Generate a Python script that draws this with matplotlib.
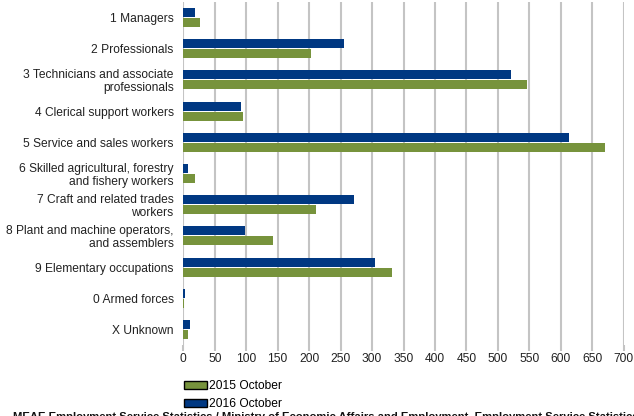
import numpy as np
import matplotlib
matplotlib.use('Agg')
import matplotlib.pyplot as plt
from matplotlib.patches import Patch

# Occupation groups (top to bottom as drawn)
categories = ['1 Managers', '2 Professionals', '3 Technicians and associate\nprofessionals',
              '4 Clerical support workers', '5 Service and sales workers',
              '6 Skilled agricultural, forestry\nand fishery workers',
              '7 Craft and related trades\nworkers',
              '8 Plant and machine operators,\nand assemblers',
              '9 Elementary occupations', '0 Armed forces', 'X Unknown']
oct_2015 = [27, 203, 546, 95, 670, 19, 211, 143, 332, 1, 7]
oct_2016 = [19, 256, 521, 92, 613, 7, 272, 98, 305, 3, 11]
xticks = list(range(0, 701, 50))

green = '#77933c'
blue = '#003882'
grid_col = '#c4c4c4'
fs = 8.65

plt.rcParams['font.family'] = ['Liberation Sans', 'DejaVu Sans']

fig = plt.figure(figsize=(6.34, 4.16), dpi=100)
ax = fig.add_axes([183.3 / 634, 1 - 345 / 416, 440.4 / 634, 343 / 416])

y = np.arange(len(categories))
h = 0.29
ax.barh(y - 0.16, oct_2016, height=h, color=blue, zorder=3)
ax.barh(y + 0.16, oct_2015, height=h, color=green, zorder=3)

ax.set_ylim(len(categories) - 0.5, -0.5)
ax.set_xlim(0, 700)
ax.set_xticks(xticks)
ax.set_xticklabels([str(t) for t in xticks], fontsize=fs, color='#222222')
ax.set_yticks(y)
ax.set_yticklabels(categories, fontsize=fs, color='#222222', linespacing=1.1)

ax.xaxis.grid(True, color=grid_col, linewidth=1.5, zorder=0)
ax.set_axisbelow(True)
for s in ax.spines.values():
    s.set_visible(False)
ax.tick_params(axis='y', length=0, pad=7)
ax.tick_params(axis='x', length=4, width=1.5, color=grid_col, pad=2)

# Legend below axis
handles = [Patch(facecolor=green, edgecolor='black', linewidth=1.0, label='2015 October'),
           Patch(facecolor=blue, edgecolor='black', linewidth=1.0, label='2016 October')]
fig.legend(handles=handles, loc='upper left', bbox_to_anchor=(176 / 634, 1 - 372 / 416),
           frameon=False, fontsize=fs, handlelength=1.9, handleheight=0.65,
           handletextpad=0.15, labelspacing=0.45, borderpad=0.2)

# Source line (clipped at bottom edge, as in the original)
fig.text(13 / 634, 1 - 412 / 416,
         'MEAE Employment Service Statistics / Ministry of Economic Affairs and Employment, '
         'Employment Service Statistics',
         fontsize=8.15, fontweight='bold', va='top', ha='left', color='#111111')

fig.savefig('out.png', dpi=100)
